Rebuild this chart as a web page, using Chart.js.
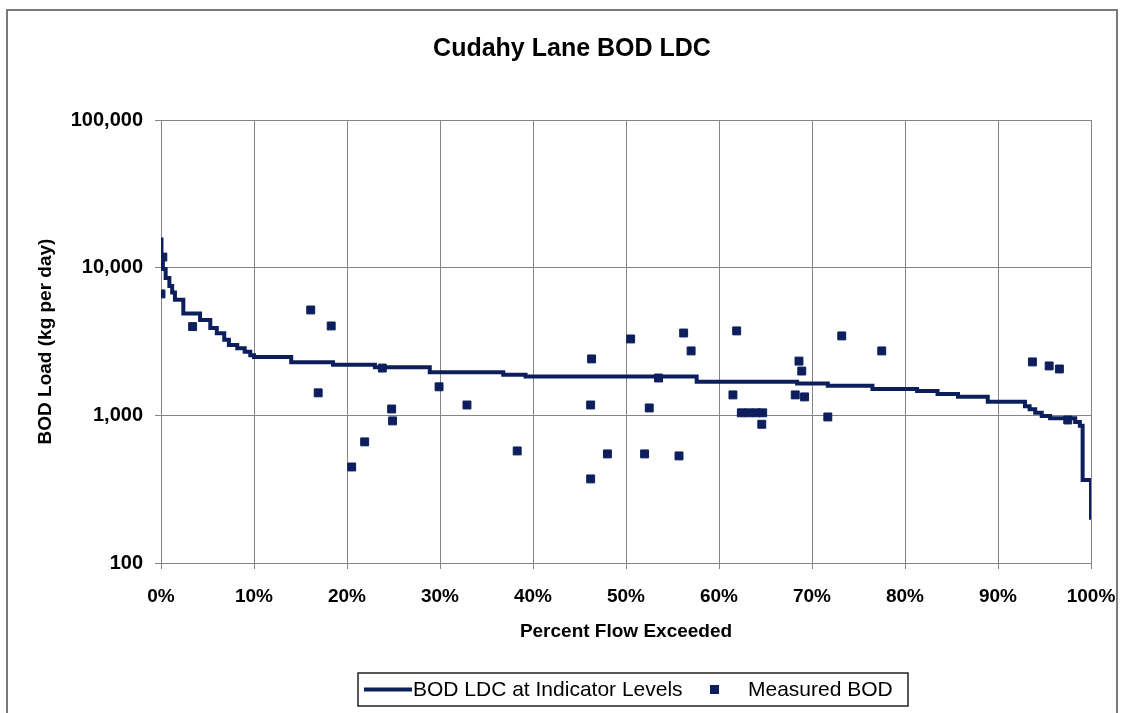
<!DOCTYPE html>
<html>
<head>
<meta charset="utf-8">
<title>Cudahy Lane BOD LDC</title>
<script src="https://cdn.jsdelivr.net/npm/chart.js@4.4.1/dist/chart.umd.min.js"></script>
<style>
  html, body { margin: 0; padding: 0; background: #ffffff; }
  #wrap { position: relative; width: 1125px; height: 713px; }
  canvas { display: block; }
</style>
</head>
<body>
<div id="wrap"><canvas id="ldc" width="1125" height="713"></canvas></div>
<script>
// Load duration curve: percent of time flow is exceeded vs. allowable BOD load (kg/day)
const ldcPercent = [0, 0.05, 0.2, 0.5, 0.9, 1.2, 1.5, 2.4, 4.2, 5.3, 6.0, 6.8, 7.3, 8.2, 9.0, 9.6,
  10.0, 14.0, 18.5, 23.0, 28.9, 36.8, 39.2, 57.6, 68.4, 71.7, 76.5, 81.3, 83.5, 85.7, 88.9,
  92.9, 93.4, 94.0, 94.7, 95.6, 98.3, 98.8, 99.1, 100];
const ldcLoad = [15500, 11500, 9800, 8500, 7500, 6800, 6060, 4900, 4430, 3900, 3600, 3250, 3000, 2850, 2700, 2550,
  2480, 2290, 2200, 2120, 1960, 1880, 1830, 1690, 1640, 1585, 1510, 1460, 1395, 1335, 1235,
  1150, 1100, 1040, 990, 955, 900, 850, 365, 196];

// Measured BOD loads at the flow percentile of each sample
const bodPercent = [0, 0.2, 3.4, 16.1, 18.3, 16.9, 23.8, 29.9, 24.8, 24.9, 21.9, 20.5, 32.9, 38.3,
  46.3, 46.2, 46.2, 48.0, 50.5, 52.0, 52.5, 53.5, 55.7, 56.2, 57.0, 61.9, 61.5, 62.4, 63.2, 64.0,
  64.7, 64.6, 68.6, 68.9, 68.2, 69.2, 71.7, 73.2, 77.5, 93.7, 95.5, 96.6, 97.5];
const bodLoad = [6640, 11800, 3990, 5170, 4030, 1420, 2090, 1560, 1104, 917, 661, 447, 1175, 574,
  2410, 1175, 371, 548, 3290, 548, 1122, 1790, 531, 3610, 2730, 3730, 1375, 1040, 1040, 1040,
  1040, 870, 2330, 1995, 1375, 1333, 975, 3450, 2730, 2300, 2160, 2060, 930];

const yTickValues = [100, 1000, 10000, 100000];
const xTickStep = 10;

const chartTitle = 'Cudahy Lane BOD LDC';
const xTitle = 'Percent Flow Exceeded';
const yTitle = 'BOD Load (kg per day)';
const seriesNames = ['BOD LDC at Indicator Levels', 'Measured BOD'];

const NAVY = '#0c1f5c';
const GRID = '#858585';
const FONT = '"Liberation Sans", Arial, Helvetica, sans-serif';

// Outer frame of the chart object
const framePlugin = {
  id: 'frame',
  beforeDraw(chart) {
    const ctx = chart.ctx;
    ctx.save();
    ctx.fillStyle = '#ffffff';
    ctx.fillRect(0, 0, chart.width, chart.height);
    ctx.strokeStyle = '#7a7a7a';
    ctx.lineWidth = 2;
    ctx.strokeRect(7, 10, 1110, 720);
    ctx.restore();
  }
};

// Chart heading, centred over the frame
const headingPlugin = {
  id: 'heading',
  afterDraw(chart) {
    const ctx = chart.ctx;
    ctx.save();
    ctx.fillStyle = '#000000';
    ctx.font = 'bold 25px ' + FONT;
    ctx.textAlign = 'center';
    ctx.textBaseline = 'middle';
    ctx.fillText(chartTitle, 572, 49);
    ctx.restore();
  }
};

// Boxed legend below the axis title
const boxedLegendPlugin = {
  id: 'boxedLegend',
  afterDraw(chart) {
    const ctx = chart.ctx;
    const ds = chart.data.datasets;
    const top = 673, h = 33, left = 358, w = 550;
    const cy = top + h / 2;
    ctx.save();
    ctx.strokeStyle = '#222222';
    ctx.lineWidth = 1.5;
    ctx.strokeRect(left, top, w, h);

    // line sample
    ctx.strokeStyle = ds[0].borderColor;
    ctx.lineWidth = 4;
    ctx.beginPath();
    ctx.moveTo(364, cy);
    ctx.lineTo(412, cy);
    ctx.stroke();

    ctx.fillStyle = '#000000';
    ctx.font = '21px ' + FONT;
    ctx.textAlign = 'left';
    ctx.textBaseline = 'middle';
    ctx.fillText(ds[0].label, 413, cy + 1);

    // marker sample
    ctx.fillStyle = ds[1].backgroundColor;
    ctx.fillRect(710, cy - 4.5, 9, 9);

    ctx.fillStyle = '#000000';
    ctx.fillText(ds[1].label, 748, cy + 1);
    ctx.restore();
  }
};

const ldcPoints = ldcPercent.map((p, i) => ({ x: p, y: ldcLoad[i] }));
const bodPoints = bodPercent.map((p, i) => ({ x: p, y: bodLoad[i] }));

new Chart(document.getElementById('ldc'), {
  type: 'scatter',
  data: {
    datasets: [
      {
        type: 'line',
        label: seriesNames[0],
        data: ldcPoints,
        borderColor: NAVY,
        backgroundColor: NAVY,
        borderWidth: 4,
        stepped: 'before',
        pointRadius: 0,
        fill: false,
        order: 2
      },
      {
        type: 'scatter',
        label: seriesNames[1],
        data: bodPoints,
        pointStyle: 'rect',
        pointRadius: 5.6,
        borderWidth: 1,
        borderColor: NAVY,
        backgroundColor: NAVY,
        order: 1
      }
    ]
  },
  options: {
    responsive: false,
    animation: false,
    devicePixelRatio: 1,
    layout: { padding: { top: 120, right: 34, bottom: 0, left: 0 } },
    plugins: {
      legend: { display: false },
      title: { display: false },
      tooltip: { enabled: false }
    },
    scales: {
      x: {
        type: 'linear',
        min: 0,
        max: 100,
        afterFit(scale) {
          scale.height = 150;
          scale.paddingLeft = 0;
          scale.paddingRight = 0;
        },
        ticks: {
          stepSize: xTickStep,
          padding: 16,
          color: '#000000',
          font: { family: FONT, size: 19, weight: 'bold' },
          callback: v => v + '%'
        },
        grid: { color: GRID, lineWidth: 1, tickLength: 6, tickColor: GRID },
        border: { color: GRID, width: 1 },
        title: {
          display: true,
          text: xTitle,
          color: '#000000',
          font: { family: FONT, size: 19, weight: 'bold' },
          padding: { top: 0, bottom: 70 }
        }
      },
      y: {
        type: 'logarithmic',
        min: 100,
        max: 100000,
        afterFit(scale) { scale.width = 161; },
        afterBuildTicks(scale) { scale.ticks = yTickValues.map(v => ({ value: v })); },
        ticks: {
          padding: 12,
          color: '#000000',
          font: { family: FONT, size: 20, weight: 'bold' },
          callback: v => Number(v).toLocaleString('en-US')
        },
        grid: { color: GRID, lineWidth: 1, tickLength: 6, tickColor: GRID },
        border: { color: GRID, width: 1 },
        title: {
          display: true,
          text: yTitle,
          color: '#000000',
          font: { family: FONT, size: 19, weight: 'bold' },
          padding: { top: 34, bottom: 0 }
        }
      }
    }
  },
  plugins: [framePlugin, headingPlugin, boxedLegendPlugin]
});
</script>
</body>
</html>
